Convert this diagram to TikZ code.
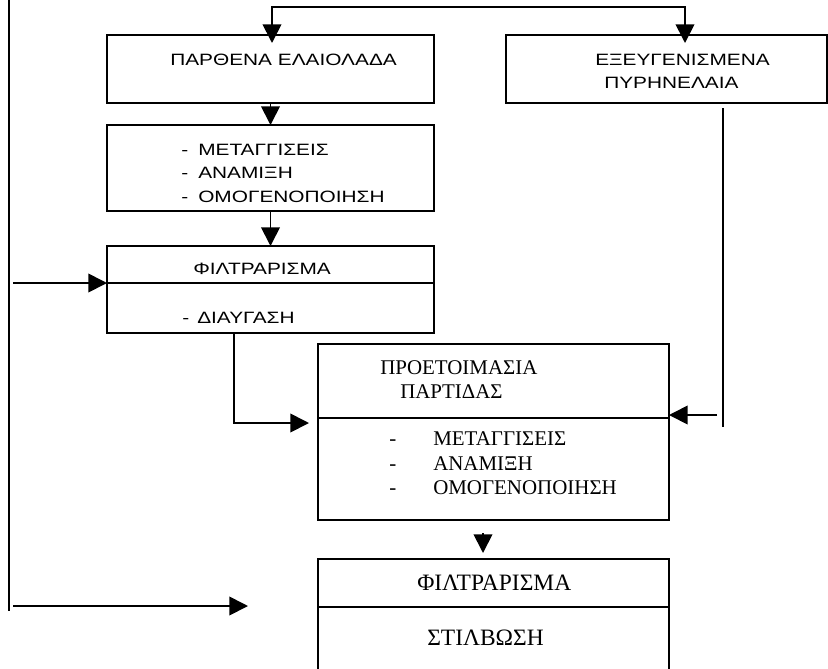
\documentclass[tikz,border=0pt]{standalone}
\usepackage{fontspec}
\setmainfont{Liberation Serif}
\newfontfamily\arialgr[FakeStretch=1.27]{Liberation Sans}
\usetikzlibrary{arrows.meta,positioning}

\begin{document}
\begin{tikzpicture}[x=0.75pt, y=-0.75pt,
    box/.style={draw, line width=1.3pt, inner sep=0pt, outer sep=0pt},
    ln/.style={line width=1.3pt},
    arr/.style={-{Triangle[length=14pt, width=14pt]}, line width=1.3pt},
    dbl/.style={{Triangle[length=14pt, width=14pt]}-{Triangle[length=14pt, width=14pt]}, line width=1.3pt},
    sns/.style={font=\arialgr\fontsize{12.3}{14}\selectfont, anchor=west, inner sep=0pt, text height=8.8pt, text depth=0pt},
    srf/.style={font=\fontsize{15.7}{18}\selectfont, anchor=west, inner sep=0pt, text height=10.4pt, text depth=0pt},
    srfbig/.style={font=\fontsize{17.6}{20}\selectfont, anchor=west, inner sep=0pt, text height=11.6pt, text depth=0pt}
]
\useasboundingbox (0,0) rectangle (828,668);

% boxes
\node[box, minimum width=245.25pt, minimum height=51pt] (virgin) at (270.5,69) {};
\node[box, minimum width=240.75pt, minimum height=51pt] (pomace) at (666.5,69) {};
\node[box, minimum width=245.25pt, minimum height=64.5pt] (mixing) at (270.5,168) {};
\node[box, minimum width=245.25pt, minimum height=65.25pt] (filter) at (270.5,289.5) {};
\node[box, minimum width=263.25pt, minimum height=132pt] (batch) at (493.5,432) {};
\node[box, minimum width=263.25pt, minimum height=84.75pt] (polish) at (493.5,615.5) {};

% dividers
\coordinate (fDiv) at (0,283);
\coordinate (bDiv) at (0,418);
\coordinate (pDiv) at (0,607);
\draw[ln] (filter.west |- fDiv) -- (filter.east |- fDiv);
\draw[ln] (batch.west |- bDiv) -- (batch.east |- bDiv);
\draw[ln] (polish.west |- pDiv) -- (polish.east |- pDiv);

% texts
\node[sns] (tVirgin) at (170,60) {ΠΑΡΘΕΝΑ ΕΛΑΙΟΛΑΔΑ};
\node[sns] (tPomA) at (595,60) {ΕΞΕΥΓΕΝΙΣΜΕΝΑ};
\node[sns] (tPomB) at (604,83) {ΠΥΡΗΝΕΛΑΙΑ};
\foreach \yy/\txt [count=\i] in {150/ΜΕΤΑΓΓΙΣΕΙΣ, 173/ΑΝΑΜΙΞΗ, 197/ΟΜΟΓΕΝΟΠΟΙΗΣΗ} {
  \node[sns] (mDash\i) at (181,\yy) {-};
  \node[sns] (mItem\i) at (198,\yy) {\txt};
}
\node[sns] (tFilter) at (193,269) {ΦΙΛΤΡΑΡΙΣΜΑ};
\node[sns] (fDash) at (182,318) {-};
\node[sns] (tClear) at (197,318) {ΔΙΑΥΓΑΣΗ};
\node[srf] (tBatchA) at (380,368) {ΠΡΟΕΤΟΙΜΑΣΙΑ};
\node[srf] (tBatchB) at (400,392) {ΠΑΡΤΙΔΑΣ};
\foreach \yy/\txt [count=\i] in {439/ΜΕΤΑΓΓΙΣΕΙΣ, 464/ΑΝΑΜΙΞΗ, 488/ΟΜΟΓΕΝΟΠΟΙΗΣΗ} {
  \node[srf] (bDash\i) at (389,\yy) {-};
  \node[srf] (bItem\i) at (433,\yy) {\txt};
}
\node[srfbig] (tFilter2) at (417,583) {ΦΙΛΤΡΑΡΙΣΜΑ};
\node[srfbig] (tPolish) at (427,638) {ΣΤΙΛΒΩΣΗ};

% connectors
\coordinate (inV) at (272,43);
\coordinate (inP) at (685,43);
\draw[dbl] (inV) -- ++(0,-36) -| (inP);
\draw[arr] (virgin.south) -- (mixing.north);
\draw[arr] (mixing.south) -- (filter.north);

\coordinate (lTop) at (9,0);
\coordinate (lBot) at (9,611);
\draw[ln] (lTop) -- (lBot);
\coordinate (lIn1) at (13,283);
\draw[arr] (lIn1) -- (lIn1 -| filter.west);
\coordinate (lIn2) at (13,606);
\coordinate (lEnd2) at (248,606);
\draw[arr] (lIn2) -- (lEnd2);

\coordinate (fOut) at (234,0);
\coordinate (bIn) at (309,423);
\draw[arr] (fOut |- filter.south) |- (bIn);

\coordinate (rTop) at (723,108);
\coordinate (rBot) at (723,427);
\draw[ln] (rTop) -- (rBot);
\coordinate (rIn) at (717,415);
\draw[arr] (rIn) -- (rIn -| batch.east);

\coordinate (hdTop) at (483,533);
\coordinate (hdTip) at (483,553);
\draw[arr] (hdTop) -- (hdTip);
\end{tikzpicture}
\end{document}
